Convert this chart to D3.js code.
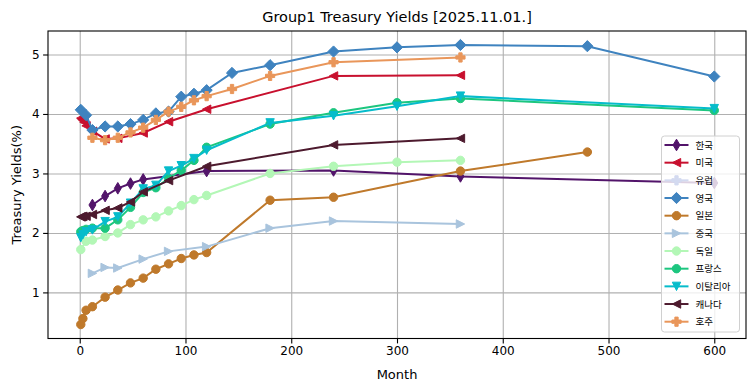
<!DOCTYPE html>
<html><head><meta charset="utf-8">
<script src="https://cdn.jsdelivr.net/npm/d3@7"></script>
<style>
body{margin:0;background:#fff;}
svg{display:block;}
text{font-family:"DejaVu Sans",sans-serif;}
.leg text{font-family:"Noto Sans CJK KR","DejaVu Sans",sans-serif;}
</style></head>
<body><svg id="c" width="755" height="391"></svg>
<script>
// ---- data ----
const seriesNames = ["한국","미국","유럽","영국","일본","중국","독일","프랑스","이탈리아","캐나다","호주"];
const koreaMonths = [12,24,36,48,60,120,240,360,600];
const koreaYields = [2.47,2.62,2.75,2.83,2.90,3.04,3.05,2.95,2.84];
const usMonths = [1,2,3,4,6,12,24,36,60,84,120,240,360];
const usYields = [3.93,3.91,3.89,3.86,3.80,3.71,3.58,3.59,3.68,3.87,4.08,4.64,4.65];
const euMonths = [];
const euYields = [];
const ukMonths = [1,6,12,24,36,48,60,72,84,96,108,120,144,180,240,300,360,480,600];
const ukYields = [4.07,3.98,3.73,3.79,3.79,3.83,3.90,4.01,4.04,4.29,4.34,4.40,4.69,4.82,5.05,5.12,5.16,5.14,4.63];
const japanMonths = [1,3,6,12,24,36,48,60,72,84,96,108,120,180,240,360,480];
const japanYields = [0.46,0.56,0.70,0.76,0.92,1.04,1.16,1.24,1.39,1.48,1.57,1.63,1.67,2.55,2.60,3.04,3.36];
const chinaMonths = [12,24,36,60,84,120,180,240,360];
const chinaYields = [1.32,1.42,1.41,1.56,1.69,1.77,2.08,2.20,2.15];
const germanyMonths = [1,6,12,24,36,48,60,72,84,96,108,120,180,240,300,360];
const germanyYields = [1.72,1.86,1.88,1.94,2.00,2.14,2.22,2.27,2.37,2.46,2.56,2.63,3.00,3.12,3.19,3.22];
const franceMonths = [1,3,6,12,24,36,48,60,72,84,96,108,120,180,240,300,360,600];
const franceYields = [2.02,2.04,2.06,2.08,2.08,2.22,2.43,2.68,2.76,2.92,3.05,3.22,3.44,3.83,4.02,4.19,4.26,4.06];
const italyMonths = [1,3,6,12,24,36,48,60,72,84,96,108,120,180,240,300,360,600];
const italyYields = [1.92,1.97,2.02,2.05,2.19,2.27,2.50,2.74,2.80,3.04,3.13,3.25,3.39,3.85,3.97,4.13,4.30,4.09];
const canadaMonths = [1,2,3,6,12,24,36,48,60,84,120,240,360];
const canadaYields = [2.27,2.27,2.28,2.28,2.31,2.38,2.42,2.52,2.69,2.88,3.12,3.48,3.59];
const australiaMonths = [12,24,36,48,60,72,84,96,108,120,144,180,240,360];
const australiaYields = [3.60,3.56,3.60,3.69,3.77,3.90,4.04,4.12,4.23,4.30,4.42,4.64,4.87,4.95];
const xTicks = [0,100,200,300,400,500,600];
const yTicks = [1,2,3,4,5];
const titleText = "Group1 Treasury Yields [2025.11.01.]";
const xLabel = "Month";
const yLabel = "Treasury Yields(%)";

// ---- styles ----
const colors = ["#52146a","#c8102e","#d3daf0","#3f83bf","#bf792b","#a9c4dd","#b3f7b6","#1cc67f","#06bccb","#4d1a2e","#e9965a"];
const markers = ["thinDiamond","triLeft","plus","diamond","circle","triRight","circle","circle","triDown","triLeft","plus"];
const monthsList = [koreaMonths,usMonths,euMonths,ukMonths,japanMonths,chinaMonths,germanyMonths,franceMonths,italyMonths,canadaMonths,australiaMonths];
const yieldsList = [koreaYields,usYields,euYields,ukYields,japanYields,chinaYields,germanyYields,franceYields,italyYields,canadaYields,australiaYields];
const series = seriesNames.map((n,i)=>({name:n,color:colors[i],marker:markers[i],
  pts:monthsList[i].map((m,j)=>({m:m,v:yieldsList[i][j]}))}));

const W=755,H=391, L=48, T=31, R=746, B=338.5;
const svg=d3.select("#c");
const allM=series.flatMap(s=>s.pts.map(p=>p.m)), allV=series.flatMap(s=>s.pts.map(p=>p.v));
const mx0=d3.min(allM), mx1=d3.max(allM), vy0=d3.min(allV), vy1=d3.max(allV);
const padX=(mx1-mx0)*0.05, padY=(vy1-vy0)*0.05;
const x=d3.scaleLinear().domain([-30,630]).range([L,R]);
const y=d3.scaleLinear().domain([vy0-padY,vy1+padY]).range([B,T]);

// grid
const g=svg.append("g");
g.append("g").attr("transform",`translate(0,${B})`)
 .call(d3.axisBottom(x).tickValues(xTicks).tickSize(-(B-T)).tickFormat(""))
 .call(a=>{a.select(".domain").remove();a.selectAll("line").attr("stroke","#b0b0b0").attr("stroke-width",1.1);});
g.append("g").attr("transform",`translate(${L},0)`)
 .call(d3.axisLeft(y).tickValues(yTicks).tickSize(-(R-L)).tickFormat(""))
 .call(a=>{a.select(".domain").remove();a.selectAll("line").attr("stroke","#b0b0b0").attr("stroke-width",1.1);});

function sym(type,size){
  const s=size;
  switch(type){
    case "circle": return `M${s},0A${s},${s} 0 1,1 ${-s},0A${s},${s} 0 1,1 ${s},0Z`;
    case "diamond": return `M0,${-s}L${s},0L0,${s}L${-s},0Z`;
    case "thinDiamond": return `M0,${-s}L${s*0.6},0L0,${s}L${-s*0.6},0Z`;
    case "triLeft": return `M${-s},0L${s},${-s}L${s},${s}Z`;
    case "triRight": return `M${s},0L${-s},${-s}L${-s},${s}Z`;
    case "triDown": return `M0,${s}L${-s},${-s}L${s},${-s}Z`;
    case "plus": {const a=s*0.36; return `M${-a},${-s}H${a}V${-a}H${s}V${a}H${a}V${s}H${-a}V${a}H${-s}V${-a}H${-a}Z`;}
  }
}
const msize={circle:4.2,diamond:5.6,thinDiamond:5.8,triLeft:4.2,triRight:4.2,triDown:4.2,plus:4.6};

const clip=svg.append("clipPath").attr("id","clp").append("rect").attr("x",L).attr("y",T).attr("width",R-L).attr("height",B-T);
const plot=svg.append("g").attr("clip-path","url(#clp)");
const line=d3.line().x(d=>x(d.m)).y(d=>y(d.v));
series.forEach(s=>{
  const gg=plot.append("g");
  gg.append("path").datum(s.pts).attr("d",line).attr("fill","none").attr("stroke",s.color).attr("stroke-width",2);
  gg.selectAll("path.m").data(s.pts).enter().append("path").attr("class","m")
    .attr("d",sym(s.marker,msize[s.marker])).attr("transform",d=>`translate(${x(d.m)},${y(d.v)})`)
    .attr("fill",s.color).attr("stroke",s.color).attr("stroke-width",1);
});

// frame
svg.append("rect").attr("x",L).attr("y",T).attr("width",R-L).attr("height",B-T).attr("fill","none").attr("stroke","#000").attr("stroke-width",1.1);

// axes
const ax=svg.append("g").attr("transform",`translate(0,${B})`).call(d3.axisBottom(x).tickValues(xTicks).tickSize(4.9).tickPadding(3.5));
const ay=svg.append("g").attr("transform",`translate(${L},0)`).call(d3.axisLeft(y).tickValues(yTicks).tickSize(4.9).tickPadding(3.5).tickFormat(d3.format("d")));
[ax,ay].forEach(a=>{a.select(".domain").remove();a.selectAll("text").attr("font-family","DejaVu Sans").attr("font-size",12).attr("fill","#000");a.selectAll("line").attr("stroke","#000").attr("stroke-width",1.1);});

svg.append("text").attr("x",(L+R)/2).attr("y",22).attr("text-anchor","middle").attr("font-size",14.5).text(titleText);
svg.append("text").attr("x",(L+R)/2).attr("y",379).attr("text-anchor","middle").attr("font-size",13).text(xLabel);
svg.append("text").attr("transform",`translate(21,${(T+B)/2}) rotate(-90)`).attr("text-anchor","middle").attr("font-size",13).text(yLabel);

// legend
const lg=svg.append("g").attr("class","leg");
const lx=661.5, ly=136, lw=78, lh=196, sp=17.67;
lg.append("rect").attr("x",lx).attr("y",ly).attr("width",lw).attr("height",lh).attr("rx",3)
  .attr("fill","#fff").attr("fill-opacity",0.8).attr("stroke","#d0d0d0").attr("stroke-width",1);
series.forEach((s,i)=>{
  const yy=ly+9+i*sp;
  lg.append("line").attr("x1",lx+3).attr("x2",lx+27).attr("y1",yy).attr("y2",yy).attr("stroke",s.color).attr("stroke-width",2);
  lg.append("path").attr("d",sym(s.marker,msize[s.marker])).attr("transform",`translate(${lx+15},${yy})`)
    .attr("fill",s.color).attr("stroke",s.color).attr("stroke-width",1);
  lg.append("text").attr("x",lx+34).attr("y",yy+3.5).attr("font-size",9.5).attr("fill","#000").text(s.name);
});
</script></body></html>
